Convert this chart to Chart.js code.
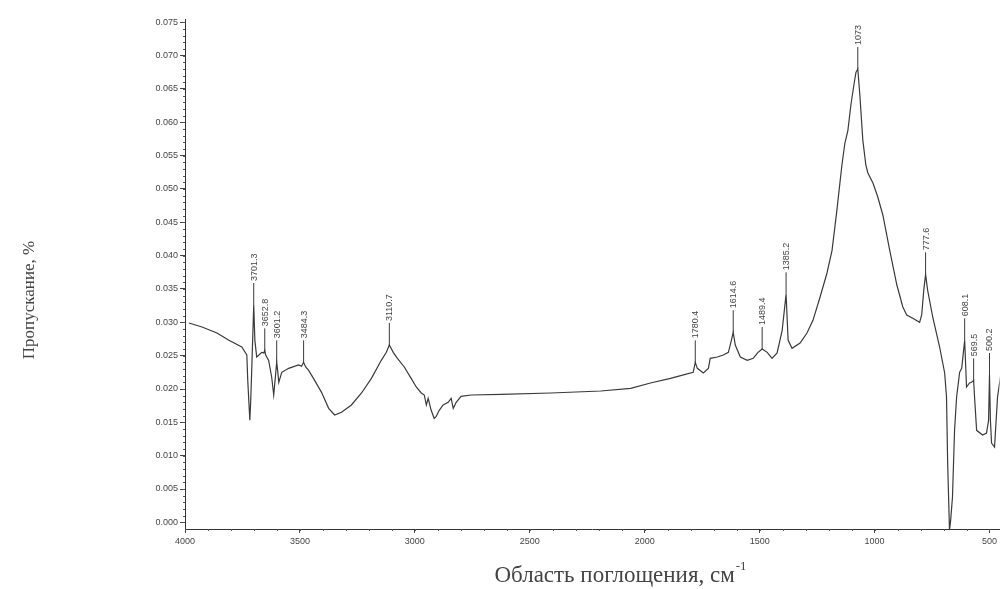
<!DOCTYPE html>
<html><head><meta charset="utf-8">
<script src="https://cdn.jsdelivr.net/npm/chart.js@4.4.1/dist/chart.umd.min.js"></script>
<style>html,body{margin:0;padding:0;background:#fff;overflow:hidden}#wrap{width:1000px;height:589px;position:relative}</style>
</head><body><div id="wrap"><canvas id="c" width="1000" height="589"></canvas></div>
<script>
// ---- data ----
const wavenumbers = [3983,3926,3861,3809,3753,3731,3727,3718,3714,3709,3701,3696,3688,3666,3657,3653,3649,3636,3623,3614,3610,3601,3597,3592,3579,3549,3506,3493,3484,3475,3462,3436,3406,3375,3349,3319,3276,3232,3189,3146,3124,3111,3094,3076,3046,3016,2994,2972,2959,2950,2942,2929,2916,2907,2894,2877,2855,2842,2833,2820,2799,2755,2625,2408,2191,2061,1975,1888,1823,1789,1780,1771,1745,1723,1715,1684,1658,1636,1623,1615,1606,1584,1554,1528,1507,1489,1467,1446,1424,1402,1385,1376,1359,1324,1294,1268,1237,1207,1185,1164,1142,1129,1116,1103,1090,1081,1073,1064,1051,1038,1029,1007,986,964,934,903,877,860,834,804,795,786,778,769,747,717,695,687,682,674,669,661,652,643,630,621,608,600,587,578,569,565,556,530,513,504,500,496,491,478,465,448];
const transmittance = [0.0299,0.0293,0.0284,0.0273,0.0263,0.0251,0.0213,0.0153,0.0183,0.0236,0.0326,0.0273,0.0248,0.0255,0.0254,0.0258,0.0251,0.0243,0.0218,0.0191,0.0206,0.0240,0.0228,0.0210,0.0225,0.0231,0.0236,0.0234,0.0240,0.0233,0.0228,0.0213,0.0195,0.0171,0.0161,0.0165,0.0176,0.0194,0.0216,0.0243,0.0255,0.0266,0.0255,0.0246,0.0233,0.0216,0.0203,0.0194,0.0191,0.0176,0.0186,0.0168,0.0156,0.0159,0.0168,0.0176,0.0180,0.0186,0.0171,0.0180,0.0189,0.0191,0.0192,0.0194,0.0197,0.0201,0.0209,0.0216,0.0222,0.0225,0.0240,0.0231,0.0224,0.0231,0.0246,0.0248,0.0251,0.0255,0.0273,0.0285,0.0266,0.0248,0.0243,0.0246,0.0255,0.0260,0.0255,0.0246,0.0254,0.0288,0.0342,0.0273,0.0261,0.0269,0.0284,0.0303,0.0338,0.0374,0.0408,0.0468,0.0536,0.0569,0.0588,0.0626,0.0656,0.0675,0.0680,0.0641,0.0573,0.0536,0.0524,0.0509,0.0488,0.0461,0.0408,0.0356,0.0323,0.0311,0.0306,0.0300,0.0311,0.0348,0.0372,0.0348,0.0308,0.0263,0.0224,0.0188,0.0089,-0.0012,0.0003,0.0038,0.0138,0.0188,0.0225,0.0231,0.0273,0.0203,0.0209,0.0210,0.0213,0.0188,0.0138,0.0131,0.0134,0.0153,0.0221,0.0153,0.0119,0.0113,0.0188,0.0228];
const peakWavenumbers = [3701,3653,3601,3484,3111,1780,1615,1489,1385,1073,778,608,569,500];
const peakLabels = ['3701.3','3652.8','3601.2','3484.3','3110.7','1780.4','1614.6','1489.4','1385.2','1073','777.6','608.1','569.5','500.2'];
const xTickValues = [4000,3500,3000,2500,2000,1500,1000,500];
const yTickValues = [0,0.005,0.01,0.015,0.02,0.025,0.03,0.035,0.04,0.045,0.05,0.055,0.06,0.065,0.07,0.075];
const xAxisTitle = 'Область поглощения, см';
const xAxisTitleSup = '-1';
const yAxisTitle = 'Пропускание, %';

const INK = '#3a3a3a';
const points = wavenumbers.map((w, i) => ({x: w, y: transmittance[i]}));

const peakPlugin = {
  id: 'peaks',
  afterDatasetsDraw(chart) {
    const {ctx, scales: {x, y}} = chart;
    ctx.save();
    ctx.strokeStyle = INK; ctx.fillStyle = '#444'; ctx.lineWidth = 1;
    ctx.font = '9px "Liberation Sans"';
    peakWavenumbers.forEach((w, i) => {
      const idx = wavenumbers.indexOf(w);
      const px = x.getPixelForValue(w), py = y.getPixelForValue(transmittance[idx]);
      ctx.beginPath(); ctx.moveTo(px, py); ctx.lineTo(px, py - 22); ctx.stroke();
      ctx.save(); ctx.translate(px + 0.5, py - 24); ctx.rotate(-Math.PI / 2);
      ctx.textAlign = 'left'; ctx.textBaseline = 'middle';
      ctx.fillText(peakLabels[i], 0, 0); ctx.restore();
    });
    ctx.restore();
  }
};

const minorPlugin = {
  id: 'minor',
  afterDraw(chart) {
    const {ctx, scales: {x, y}, chartArea: a} = chart;
    ctx.save(); ctx.strokeStyle = '#555'; ctx.lineWidth = 1;
    for (let v = 0; v <= 0.0755; v += 0.001) {
      const py = Math.round(y.getPixelForValue(v)) + 0.5;
      ctx.beginPath(); ctx.moveTo(a.left - 2, py); ctx.lineTo(a.left, py); ctx.stroke();
    }
    for (let v = 500; v <= 4000; v += 100) {
      const px = Math.round(x.getPixelForValue(v)) + 0.5;
      ctx.beginPath(); ctx.moveTo(px, a.bottom); ctx.lineTo(px, a.bottom + 2); ctx.stroke();
    }
    ctx.restore();
  }
};

const titlePlugin = {
  id: 'titles',
  afterDraw(chart) {
    const {ctx} = chart;
    ctx.save(); ctx.fillStyle = '#444';
    ctx.font = '17px "Liberation Serif"';
    ctx.translate(30, 300); ctx.rotate(-Math.PI / 2);
    ctx.textAlign = 'center'; ctx.textBaseline = 'middle';
    ctx.fillText(yAxisTitle, 0, 0);
    ctx.restore();
    ctx.save(); ctx.fillStyle = '#444';
    ctx.font = '23px "Liberation Serif"';
    const w1 = ctx.measureText(xAxisTitle).width;
    ctx.font = '13px "Liberation Serif"';
    const w2 = ctx.measureText(xAxisTitleSup).width;
    const x0 = 620 - (w1 + w2) / 2;
    ctx.textBaseline = 'alphabetic'; ctx.textAlign = 'left';
    ctx.font = '23px "Liberation Serif"';
    ctx.fillText(xAxisTitle, x0, 582);
    ctx.font = '13px "Liberation Serif"';
    ctx.fillText(xAxisTitleSup, x0 + w1 + 1, 570);
    ctx.restore();
  }
};

new Chart(document.getElementById('c'), {
  type: 'line',
  data: { datasets: [{ data: points, borderColor: INK, borderWidth: 1.2, pointRadius: 0, tension: 0, fill: false }] },
  options: {
    responsive: false, animation: false, devicePixelRatio: 1,
    layout: { padding: { top: 19, right: 0, left: 0, bottom: 0 } },
    plugins: { legend: { display: false }, tooltip: { enabled: false } },
    scales: {
      x: {
        type: 'linear', reverse: true, min: 456, max: 4000,
        afterBuildTicks: s => { s.ticks = xTickValues.map(v => ({value: v})); },
        afterFit: s => { s.height = 60; },
        grid: { drawOnChartArea: false, tickLength: 4, color: '#444' },
        border: { display: true, color: '#333', width: 1 },
        ticks: { color: '#444', font: { family: 'Liberation Sans', size: 9 }, padding: 3, maxRotation: 0, autoSkip: false, callback: v => String(v) }
      },
      y: {
        type: 'linear', min: -0.001, max: 0.0755,
        afterBuildTicks: s => { s.ticks = yTickValues.map(v => ({value: v})); },
        afterFit: s => { s.width = 185; },
        grid: { drawOnChartArea: false, tickLength: 5, color: '#444' },
        border: { display: true, color: '#333', width: 1 },
        ticks: { color: '#444', font: { family: 'Liberation Sans', size: 9 }, padding: 2, autoSkip: false, callback: v => v.toFixed(3) }
      }
    }
  },
  plugins: [peakPlugin, minorPlugin, titlePlugin]
});
</script></body></html>
